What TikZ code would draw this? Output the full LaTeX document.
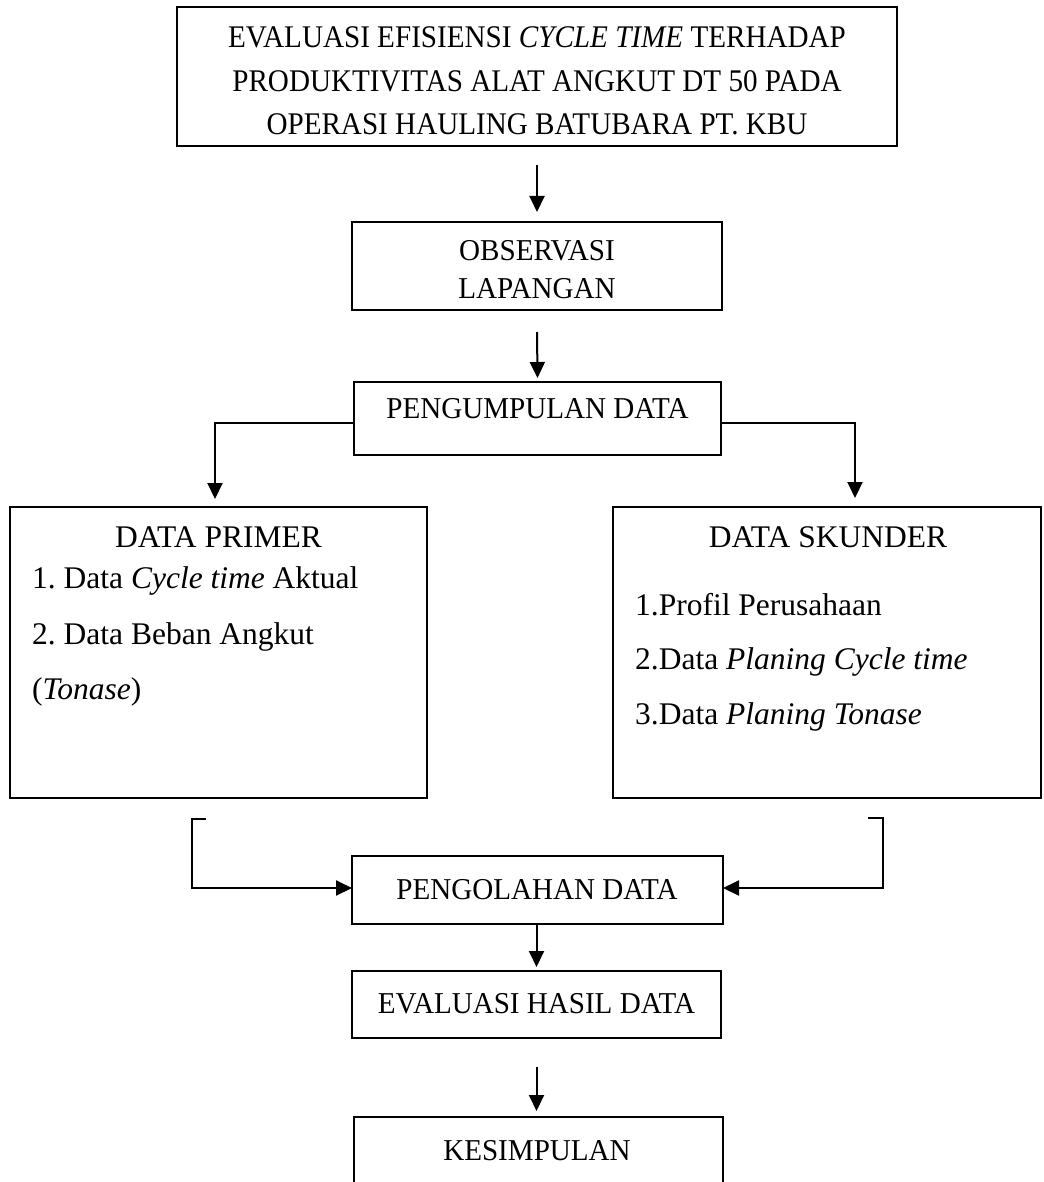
\documentclass[tikz,border=0pt]{standalone}
\usepackage{fontspec}
\setmainfont{Liberation Serif}
\usetikzlibrary{arrows.meta}
\newcommand{\condtext}[2]{\scalebox{#1}[1]{#2}}
\begin{document}
\frenchspacing
\begin{tikzpicture}[x=1pt,y=-1pt,
  box/.style={draw, line width=1.3pt, inner sep=0pt, outer sep=0pt},
  conn/.style={line width=2pt},
  arr/.style={conn, -{Triangle[width=15pt,length=16pt]}},
  lbl/.style={font=\fontsize{30.3}{36}\selectfont, anchor=base, inner sep=0pt},
  ttl/.style={font=\fontsize{31.5}{38}\selectfont, anchor=base, inner sep=0pt},
  head/.style={font=\fontsize{31.5}{38}\selectfont, anchor=base, inner sep=0pt},
  item/.style={font=\fontsize{31.5}{38}\selectfont, anchor=base west, inner sep=0pt}]

\useasboundingbox (0,0) rectangle (1043,1182);
\fill[white] (0,0) rectangle (1043,1182);
\clip (0,0) rectangle (1043,1182);

% boxes
\node[box, minimum width=720pt, minimum height=139pt] (title) at (537,76.5) {};
\node[box, minimum width=370pt, minimum height=88pt] (obs) at (537,266) {};
\node[box, minimum width=367pt, minimum height=73pt] (peng) at (537.5,418.5) {};
\node[box, minimum width=417pt, minimum height=291pt] (primer) at (218.5,652.5) {};
\node[box, minimum width=428pt, minimum height=291pt] (skunder) at (827,652.5) {};
\node[box, minimum width=371pt, minimum height=68pt] (olah) at (537.5,890) {};
\node[box, minimum width=369pt, minimum height=67pt] (eval) at (536.5,1004.5) {};
\node[box, minimum width=369pt, minimum height=113pt] (kes) at (538.5,1173.5) {};

% texts
\node[ttl] (t1) at (537,47.5) {\condtext{0.925}{EVALUASI EFISIENSI {\itshape CYCLE TIME} TERHADAP}};
\node[ttl] (t2) at (537,91.5) {\condtext{0.925}{PRODUKTIVITAS ALAT ANGKUT DT 50 PADA}};
\node[ttl] (t3) at (537,134.5) {\condtext{0.925}{OPERASI HAULING BATUBARA PT. KBU}};

\node[lbl] (obs1) at (537,260) {\condtext{0.96}{OBSERVASI}};
\node[lbl] (obs2) at (537,298) {\condtext{0.96}{LAPANGAN}};

\node[lbl] (pengt) at (537.5,418) {\condtext{0.96}{PENGUMPULAN DATA}};

\node[head] (primh) at (218.5,547) {DATA PRIMER};
\node[item] (prim1) at (32,588) {1. Data {\itshape Cycle time} Aktual};
\node[item] (prim2) at (32,644) {2. Data Beban Angkut};
\node[item] (prim3) at (32,699) {({\itshape Tonase})};

\node[head] (skunh) at (828,547) {DATA SKUNDER};
\node[item] (skun1) at (635,615) {1.Profil Perusahaan};
\node[item] (skun2) at (635,669) {2.Data {\itshape Planing Cycle time}};
\node[item] (skun3) at (635,724) {3.Data {\itshape Planing Tonase}};

\node[lbl] (olaht) at (537,899) {\condtext{0.96}{PENGOLAHAN DATA}};
\node[lbl] (evalt) at (536.5,1013) {\condtext{0.96}{EVALUASI HASIL DATA}};
\node[lbl] (kest) at (537,1160) {\condtext{0.96}{KESIMPULAN}};

% connectors
\draw[arr] ([yshift=-19pt]title.south) -- ([yshift=10pt]obs.north);
\draw[arr] ([yshift=-22pt]obs.south) -- ([yshift=4pt]peng.north);
\draw[arr] ([yshift=-4.5pt]peng.west) -| ([xshift=-3.5pt,yshift=8pt]primer.north);
\draw[arr] ([yshift=-4.5pt]peng.east) -| ([xshift=28pt,yshift=9pt]skunder.north);

\coordinate (lb) at (206,819);
\coordinate (lbc) at (192,819);
\draw[arr] (lb) -- (lbc) |- ([yshift=2pt]olah.west);
\coordinate (rb) at (868,818);
\coordinate (rbc) at (883,818);
\draw[arr] (rb) -- (rbc) |- ([yshift=2pt]olah.east);

\draw[arr] ([xshift=-1pt]olah.south) -- ([xshift=-1pt,yshift=4pt]eval.north -| olah.south);
\draw[arr] ([yshift=-29pt]eval.south) -- ([yshift=6pt]kes.north -| eval.south);
\end{tikzpicture}
\end{document}
